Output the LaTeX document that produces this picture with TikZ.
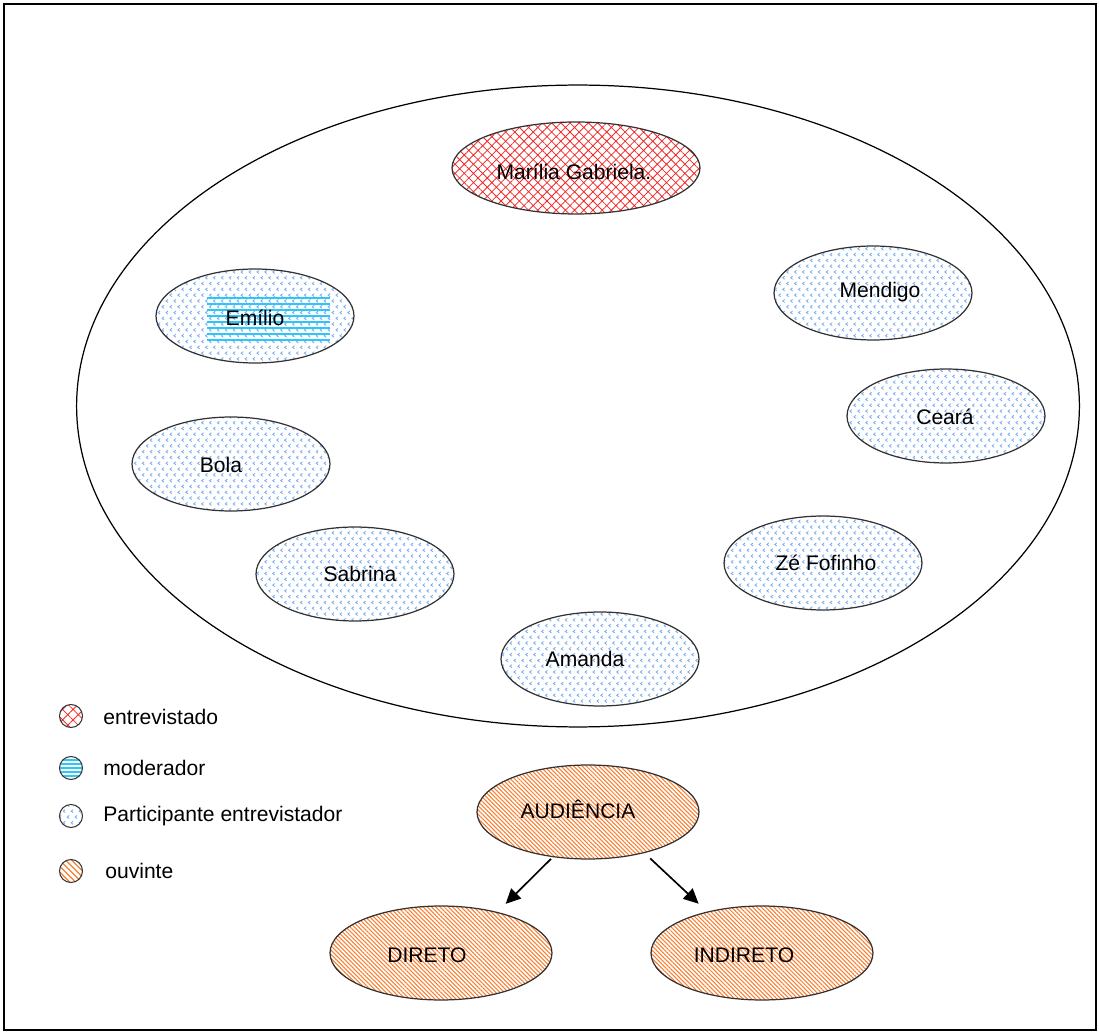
\documentclass[tikz,border=0pt]{standalone}
\usepackage{fontspec}
\setmainfont{Liberation Sans}
\usetikzlibrary{shapes.geometric,patterns,patterns.meta,arrows.meta}

\definecolor{edge}{RGB}{50,50,50}
\definecolor{partblue}{RGB}{125,175,240}
\definecolor{modcyan}{RGB}{40,200,250}
\definecolor{hatchred}{RGB}{240,40,40}
\definecolor{hatchorange}{RGB}{250,125,45}

% small chevron texture for the participants
\pgfdeclarepatternformonly{chevron}{\pgfqpoint{-0.5pt}{-0.5pt}}{\pgfqpoint{5pt}{7.3pt}}{\pgfqpoint{4.5pt}{6.6pt}}{
  \pgfsetlinewidth{0.5pt}
  \pgfpathmoveto{\pgfqpoint{1.1pt}{0pt}}\pgfpathlineto{\pgfqpoint{0pt}{0.85pt}}\pgfpathlineto{\pgfqpoint{1.1pt}{1.7pt}}
  \pgfpathmoveto{\pgfqpoint{3.35pt}{3.3pt}}\pgfpathlineto{\pgfqpoint{2.25pt}{4.15pt}}\pgfpathlineto{\pgfqpoint{3.35pt}{5pt}}
  \pgfusepath{stroke}
}

\begin{document}
\begin{tikzpicture}[x=0.02cm,y=-0.02cm,
  txt/.style={font=\fontsize{12}{14}\selectfont, inner sep=0pt},
  blob/.style={ellipse, draw=edge, line width=0.7pt, inner sep=0pt},
  participant/.style={blob, minimum width=3.96cm, minimum height=1.88cm,
                      pattern=chevron, pattern color=partblue},
  interviewee/.style={blob, minimum width=4.96cm, minimum height=1.84cm,
                      pattern={Hatch[angle=45,distance=3.7pt,line width=0.45pt]}, pattern color=hatchred},
  listener/.style={blob, minimum width=4.44cm, minimum height=1.88cm,
                   pattern={Lines[angle=-45,distance=1.7pt,line width=0.6pt]}, pattern color=hatchorange},
  arr/.style={-{Triangle[length=8.5pt,width=8pt]}, line width=0.95pt, black},
  key/.style={circle, draw=edge, line width=0.6pt, minimum size=0.46cm, inner sep=0pt}
]
\useasboundingbox (0,0) rectangle (1099,1033);

% outer frame
\draw[line width=0.8pt] (4,4) rectangle (1096,1030);

% studio circle
\node[ellipse, draw=black, line width=0.7pt, minimum width=20.06cm, minimum height=12.84cm, inner sep=0pt] (studio) at (578,406) {};

% interviewee
\node[interviewee] (mg) at (576,168) {};
\node[txt] (mgT) at (574,172) {Marília Gabriela.};

% participants
\node[participant] (emi) at (255,316) {};
\foreach \yy in {298,304,...,340} \draw[modcyan, line width=0.9pt] (207,\yy) -- (330,\yy);
\node[txt] (emiT) at (255,318) {Emílio};

\node[participant] (men) at (873,293) {};
\node[txt] (menT) at (880,292) {Mendigo};
\node[participant] (cea) at (946,416) {};
\node[txt] (ceaT) at (945,417) {Ceará};
\node[participant] (bol) at (231,464) {};
\node[txt] (bolT) at (221,465) {Bola};
\node[participant] (ze) at (823,563) {};
\node[txt] (zeT) at (826,563) {Zé Fofinho};
\node[participant] (sab) at (355,574) {};
\node[txt] (sabT) at (360,574) {Sabrina};
\node[participant] (ama) at (600,659) {};
\node[txt] (amaT) at (585,659) {Amanda};

% audience
\node[listener] (aud) at (588,812) {};
\node[txt] (audT) at (578,809) {AUDIÊNCIA};
\node[listener] (dir) at (441,953) {};
\node[txt] (dirT) at (427,955) {DIRETO};
\node[listener] (ind) at (762,953) {};
\node[txt] (indT) at (744,955) {INDIRETO};

\draw[arr, shorten <=0.05cm, shorten >=0.23cm] (aud.232.3) -- (dir.36.7);
\draw[arr, shorten <=0.16cm, shorten >=0.23cm] (aud.324.3) -- (ind.143.8);

% legend
\node[key, pattern={Hatch[angle=45,distance=4.2pt,line width=0.45pt]}, pattern color=hatchred] (k1) at (71,716) {};
\node[txt, anchor=west] (k1T) at (103,717) {entrevistado};

\begin{scope}
  \clip (71,768) circle [radius=11];
  \foreach \yy in {760,764,...,776} \draw[modcyan, line width=0.8pt] (55,\yy) -- (87,\yy);
\end{scope}
\node[key] (k2) at (71,768) {};
\node[txt, anchor=west] (k2T) at (103,768) {moderador};

\node[key, pattern=chevron, pattern color=partblue] (k3) at (71,816) {};
\node[txt, anchor=west] (k3T) at (103,816) {Participante entrevistador};

\node[key, pattern={Lines[angle=-45,distance=2.4pt,line width=0.7pt]}, pattern color=hatchorange] (k4) at (71,871) {};
\node[txt, anchor=west] (k4T) at (105,871) {ouvinte};
\end{tikzpicture}
\end{document}
